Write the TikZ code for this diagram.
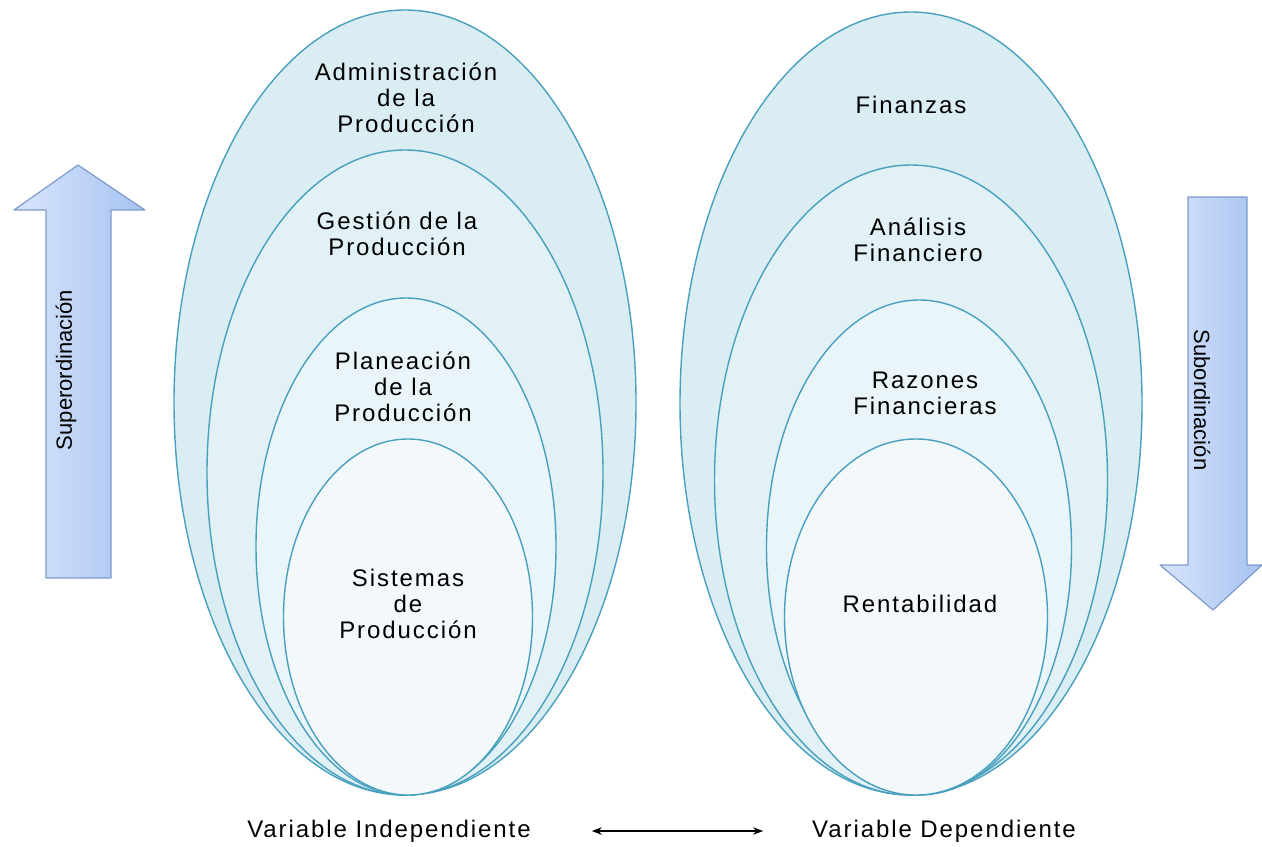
\documentclass[tikz,border=0pt]{standalone}
\usepackage{fontspec}
\setmainfont{Liberation Sans}
\newfontfamily\spaced[LetterSpace=8]{Liberation Sans}
\usepackage{xcolor}
\usetikzlibrary{arrows.meta}
\definecolor{rim}{RGB}{72,160,190}
\definecolor{lvA}{RGB}{218,237,243}
\definecolor{lvB}{RGB}{225,241,246}
\definecolor{lvC}{RGB}{234,245,249}
\definecolor{lvD}{RGB}{243,248,251}
\definecolor{blkL}{RGB}{216,229,252}
\definecolor{blkR}{RGB}{166,194,240}
\definecolor{blkE}{RGB}{125,155,205}
\tikzset{
	oval/.style={draw=rim,line width=0.7pt},
	lbl/.style={font=\spaced\fontsize{12}{13}\selectfont,align=center,text=black},
	side/.style={font=\fontsize{11}{13}\selectfont,text=black},
	blockarrow/.style={draw=blkE,line width=0.6pt,left color=blkL,right color=blkR}
}
\begin{document}
	\begin{tikzpicture}[line cap=round,line join=round,x=0.5pt,y=-0.5pt]
		\useasboundingbox (0,0) rectangle (1262,846);
		% ovals, left group
		\draw [oval,fill=lvA] (405,402.5) ellipse [x radius=115.5pt,y radius=196.25pt];
		\draw [oval,fill=lvB] (405,472.5) ellipse [x radius=99pt,y radius=161.25pt];
		\draw [oval,fill=lvC] (406,546.5) ellipse [x radius=75pt,y radius=124.25pt];
		\draw [oval,fill=lvD] (408,617) ellipse [x radius=62.25pt,y radius=89pt];
		% ovals, right group
		\draw [oval,fill=lvA] (911,403.5) ellipse [x radius=115.5pt,y radius=195.75pt];
		\draw [oval,fill=lvB] (911,480) ellipse [x radius=98.25pt,y radius=157.5pt];
		\draw [oval,fill=lvC] (919,547.5) ellipse [x radius=76.25pt,y radius=123.75pt];
		\draw [oval,fill=lvD] (916,617) ellipse [x radius=65.75pt,y radius=89pt];
		% block arrows
		\draw [blockarrow] (46,578) -- (46,210) -- (14,210) -- (78,165) -- (145,210) -- (111,210) -- (111,578) -- cycle;
		\draw [blockarrow] (1188,197) -- (1247,197) -- (1247,565) -- (1262,565) -- (1213,610) -- (1160,565) -- (1188,565) -- cycle;
		\node [side,rotate=90] (super) at (66,370) {Superordinación};
		\node [side,rotate=-90] (sub) at (1202,400) {Subordinación};
		% labels
		\node [lbl] (admin) at (406,98) {Administración\\de la\\Producción};
		\node [lbl] (gestion) at (397,233.5) {Gestión de la\\Producción};
		\node [lbl] (planea) at (403,387) {Planeación\\de la\\Producción};
		\node [lbl] (sistemas) at (408,604) {Sistemas\\de\\Producción};
		\node [lbl] (finanzas) at (911,105) {Finanzas};
		\node [lbl] (analisis) at (918,240) {Análisis\\Financiero};
		\node [lbl] (razones) at (925,393) {Razones\\Financieras};
		\node [lbl] (renta) at (920,604) {Rentabilidad};
		\node [lbl] (indep) at (389,831) {Variable Independiente};
		\node [lbl] (dep) at (944,831) {Variable Dependiente};
		\draw [{Stealth[length=5pt]}-{Stealth[length=5pt]},line width=0.6pt] ([xshift=27pt]indep.east) -- ([xshift=-21pt]dep.west);
	\end{tikzpicture}
\end{document}
